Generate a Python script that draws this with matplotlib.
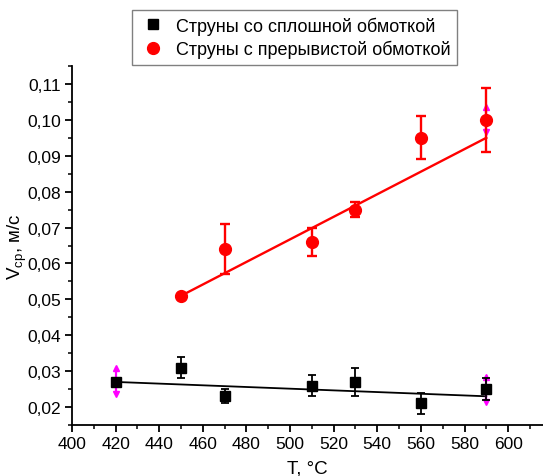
import numpy as np
import matplotlib
matplotlib.use('Agg')
import matplotlib.pyplot as plt
from matplotlib.lines import Line2D
from matplotlib.ticker import MultipleLocator, FuncFormatter

plt.rcParams['font.family'] = ['Liberation Sans', 'DejaVu Sans']

# strings with solid winding (black squares)
t_solid = [420, 450, 470, 510, 530, 560, 590]
v_solid = [0.027, 0.031, 0.023, 0.026, 0.027, 0.021, 0.025]
lo_solid = [0.027, 0.028, 0.021, 0.023, 0.023, 0.018, 0.022]
hi_solid = [0.027, 0.034, 0.025, 0.029, 0.031, 0.024, 0.028]

# strings with interrupted winding (red circles)
t_gap = [450, 470, 510, 530, 560, 590]
v_gap = [0.051, 0.064, 0.066, 0.075, 0.095, 0.100]
lo_gap = [0.051, 0.057, 0.062, 0.073, 0.089, 0.091]
hi_gap = [0.051, 0.071, 0.070, 0.077, 0.101, 0.109]

# linear fits (end points)
fit_solid_t = [420, 590]
fit_solid_v = [0.027, 0.023]
fit_gap_t = [450, 590]
fit_gap_v = [0.051, 0.095]

# magenta arrow markers
mag_t = [420, 590, 590]
mag_v = [0.027, 0.025, 0.100]
mag_lo = [0.0235, 0.0215, 0.0965]
mag_hi = [0.031, 0.0285, 0.1035]

labels = ['Струны со сплошной обмоткой', 'Струны с прерывистой обмоткой']

fig = plt.figure(figsize=(5.43, 4.77), dpi=100)
ax = fig.add_axes([0.1326, 0.1069, 0.8674, 0.7526])

def errs(v, lo, hi):
    v = np.array(v)
    return [v - np.array(lo), np.array(hi) - v]

ax.plot(fit_solid_t, fit_solid_v, color='black', lw=1.3, zorder=2)
ax.plot(fit_gap_t, fit_gap_v, color='red', lw=1.7, zorder=2)

ax.errorbar(t_solid, v_solid, yerr=errs(v_solid, lo_solid, hi_solid),
            fmt='s', color='black', ms=7, capsize=3.2, elinewidth=1.3,
            capthick=1.3, zorder=4)
ax.errorbar(t_gap, v_gap, yerr=errs(v_gap, lo_gap, hi_gap),
            fmt='o', color='red', ms=8.5, capsize=3.8, elinewidth=1.7,
            capthick=1.7, zorder=4)

# magenta arrows above and below the markers
for t, v, lo, hi in zip(mag_t, mag_v, mag_lo, mag_hi):
    ax.plot([t, t], [lo, hi], color='magenta', lw=1.6, zorder=3)
    ax.plot(t, hi, marker='^', color='magenta', ms=4.5, zorder=3)
    ax.plot(t, lo, marker='v', color='magenta', ms=4.5, zorder=3)

ax.set_xlim(400, 616)
ax.set_ylim(0.015, 0.115)
ax.xaxis.set_major_locator(MultipleLocator(20))
ax.xaxis.set_minor_locator(MultipleLocator(10))
ax.yaxis.set_major_locator(MultipleLocator(0.01))
ax.yaxis.set_minor_locator(MultipleLocator(0.005))
ax.yaxis.set_major_formatter(FuncFormatter(lambda v, p: ('%.2f' % v).replace('.', ',')))

ax.spines['top'].set_visible(False)
ax.spines['right'].set_visible(False)
for s in ['left', 'bottom']:
    ax.spines[s].set_linewidth(1.3)
ax.tick_params(which='major', direction='out', length=5, width=1.3, labelsize=12.5, pad=3)
ax.tick_params(which='minor', direction='out', length=3, width=1.1)

ax.set_xlabel('T, °C', fontsize=13.5, labelpad=6)
ax.set_ylabel('V$_{\\mathregular{ср}}$, м/с', fontsize=13.5)
ax.yaxis.set_label_coords(-0.092, 0.5)

handles = [Line2D([], [], marker='s', color='black', ls='none', ms=7),
           Line2D([], [], marker='o', color='red', ls='none', ms=8.5)]
leg = fig.legend(handles, labels, loc='upper left', bbox_to_anchor=(0.243, 0.977),
                 fontsize=13, fancybox=False, framealpha=1, edgecolor='gray',
                 handletextpad=0.5, handlelength=1.6, borderpad=0.35,
                 labelspacing=0.3, borderaxespad=0)
leg.get_frame().set_linewidth(1.0)

fig.savefig('out.png', dpi=100)
